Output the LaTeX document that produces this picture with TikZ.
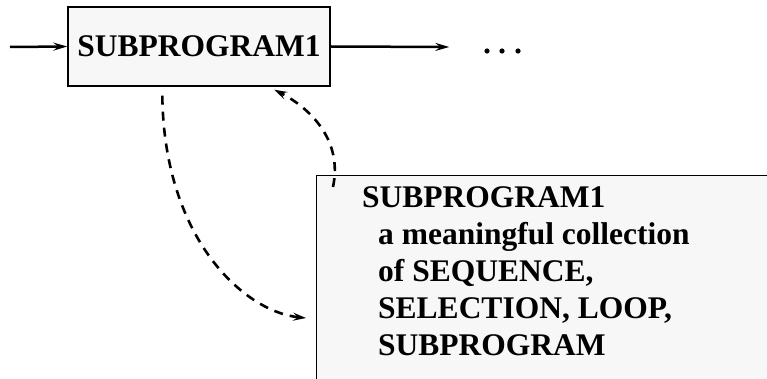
\documentclass[tikz,border=0pt]{standalone}
\usepackage{fontspec}
\setmainfont{Liberation Serif}
\usetikzlibrary{arrows.meta,calc}
\begin{document}
\begin{tikzpicture}[x=1pt,y=-1pt,
  boxstyle/.style={draw,line width=1.4pt,fill=black!3,rectangle,inner sep=0pt},
  lbl/.style={font=\fontsize{31.5}{37}\selectfont\bfseries},
  solidarrow/.style={line width=2.5pt,-{Stealth[length=14pt,width=8pt,inset=5pt]}},
  dasharrow/.style={line width=2.6pt,dash pattern=on 9pt off 7pt,-{Stealth[length=13pt,width=8pt,inset=5pt]}}]
\useasboundingbox (0,0) rectangle (767,379);
\clip (0,0) rectangle (767,379);
% top box
\node[boxstyle,minimum width=262pt,minimum height=79pt,lbl] (box1) at (199,46.5) {SUBPROGRAM1};
% bottom box
\node[boxstyle,anchor=north west,minimum width=480pt,minimum height=240pt] (box2) at (316,175) {};
\node[lbl,anchor=base west,align=left,inner sep=0pt] (txt) at (362,355)
  {SUBPROGRAM1\\\hspace*{16pt}a meaningful collection\\\hspace*{16pt}of SEQUENCE,\\\hspace*{16pt}SELECTION, LOOP,\\\hspace*{16pt}SUBPROGRAM};
% input and output
\coordinate (in) at (10,47);
\draw[solidarrow] (in) -- (box1.west);
\node[inner sep=0pt] (dots) at (502,51) {};
\fill (487,51) circle (2.6pt) (502,51) circle (2.6pt) (518,51) circle (2.6pt);
\draw[solidarrow] (box1.east) -- ($(dots.west)+(-52,-4)$);
% dashed connectors
\draw[dasharrow] ($(box1.south west)+(95,9)$) .. controls (164,240) and (245,312) .. ($(box2.north west)+(-10,143)$);
\draw[dasharrow] ($(box2.north west)+(17,12)$) .. controls (343,140) and (310,108) .. ($(box1.south west)+(207,3)$);
\end{tikzpicture}
\end{document}
